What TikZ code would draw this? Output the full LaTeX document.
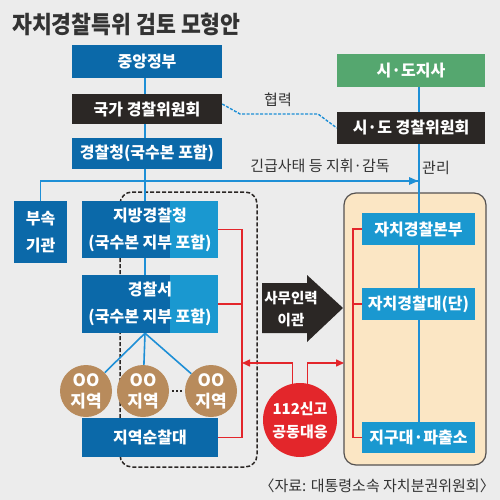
\documentclass[tikz,border=0pt]{standalone}
\usepackage{fontspec}
\setmainfont{Noto Sans CJK KR}
\newfontfamily\titlefont{Noto Sans CJK KR}[FakeStretch=0.9]
\usetikzlibrary{arrows.meta}
\pgfdeclarelayer{bg}
\pgfsetlayers{bg,main}
\definecolor{bgc}{HTML}{ECECEC}
\definecolor{dblue}{HTML}{0B69A9}
\definecolor{lblue}{HTML}{1A98D0}
\definecolor{darkc}{HTML}{2B2725}
\definecolor{grn}{HTML}{55A76F}
\definecolor{redc}{HTML}{E3262B}
\definecolor{brownc}{HTML}{B88B5C}
\definecolor{beige}{HTML}{FBE6C4}
\definecolor{lineblue}{HTML}{1E8FD6}
\definecolor{txt}{HTML}{333333}
\tikzset{
  box/.style={inner sep=0pt, text=white, align=center, font=\fontsize{16}{27}\selectfont\bfseries},
  twotone/.style={box, fill=dblue, path picture={\fill[lblue] ([xshift=88pt]path picture bounding box.south west) rectangle (path picture bounding box.north east);}},
  area/.style={circle, inner sep=0pt, minimum size=52pt, fill=brownc, text=white, align=center, font=\fontsize{17}{21}\selectfont\bfseries},
  blueline/.style={draw=lineblue, line width=1.6pt},
  redline/.style={draw=redc, line width=1.5pt},
  bluedash/.style={draw=lineblue, line width=1.4pt, dash pattern=on 3pt off 1.5pt},
  blackdash/.style={draw=darkc, line width=1.5pt, dash pattern=on 4pt off 2pt},
  label/.style={inner sep=0pt, text=txt, font=\fontsize{15}{17}\selectfont},
}
\begin{document}
\begin{tikzpicture}[x=1pt,y=-1pt]
\begin{pgfonlayer}{bg}
\fill[bgc] (0,0) rectangle (500,500);
\draw[darkc!80, line width=1.2pt, fill=beige, rounded corners=12pt] (344,193) rectangle (486,465);
\draw[blackdash, rounded corners=12pt] (120,192) rectangle (257,467);
\end{pgfonlayer}
\useasboundingbox (0,0) rectangle (500,500);
% title
\node[anchor=west, inner sep=0pt, text=txt, font=\titlefont\fontsize{24}{26}\selectfont\bfseries] (title) at (12,24) {자치경찰특위 검토 모형안};
% spine coordinates
\coordinate (sp) at (145,0);
\coordinate (rs) at (419,0);
\coordinate (rv) at (242,0);
\coordinate (iv) at (353,0);
% left column
\node[box, fill=dblue, minimum width=150pt, minimum height=33pt] (cg) at (147,61.5) {중앙정부};
\node[box, fill=darkc, minimum width=150pt, minimum height=30pt] (nc) at (147,109) {국가 경찰위원회};
\node[box, fill=dblue, minimum width=150pt, minimum height=31pt] (npa) at (147,153.5) {경찰청(국수본 포함)};
\node[box, fill=dblue, minimum width=53pt, minimum height=62pt] (aux) at (40.5,232) {부속\\기관};
\node[twotone, minimum width=136pt, minimum height=57pt] (rpa) at (150,229.5) {지방경찰청\\(국수본 지부 포함)};
\node[twotone, minimum width=136pt, minimum height=58pt] (ps) at (150,304) {경찰서\\(국수본 지부 포함)};
\node[area] (c1) at (86,391) {OO\\지역};
\node[area] (c2) at (143,391) {OO\\지역};
\node[area] (c3) at (211,391) {OO\\지역};
\node[box, fill=dblue, minimum width=136pt, minimum height=39pt] (pat) at (150,437.5) {지역순찰대};
% right column
\node[box, fill=grn, minimum width=148pt, minimum height=33pt] (gov) at (411,70.5) {시·도지사};
\node[box, fill=darkc, minimum width=148pt, minimum height=32pt] (lc) at (411,128) {시·도 경찰위원회};
\node[box, fill=lblue, minimum width=113pt, minimum height=32pt] (hq) at (418.5,229) {자치경찰본부};
\node[box, fill=lblue, minimum width=113pt, minimum height=32pt] (unit) at (418.5,304) {자치경찰대(단)};
\node[box, fill=lblue, minimum width=113pt, minimum height=31pt] (sub) at (418.5,437.5) {지구대·파출소};
% middle
\node[circle, fill=redc, minimum size=74pt, inner sep=0pt, text=white, align=center, font=\fontsize{15}{23}\selectfont\bfseries] (c112) at (300,420) {112신고\\공동대응};
\fill[darkc] (262,283) -- (307,283) -- (307,275) -- (343,308) -- (307,342) -- (307,333) -- (262,333) -- cycle;
\node[inner sep=0pt, text=white, align=center, font=\fontsize{14.5}{22}\selectfont\bfseries] (move) at (291,309) {사무인력\\이관};
% labels
\node[label] (coop) at (278,100) {협력};
\node[label] (cmd) at (320,166) {긴급사태 등 지휘·감독};
\node[label] (mng) at (436,168) {관리};
\node[label, anchor=east] (src) at (495,486) {〈자료: 대통령소속 자치분권위원회〉};
\coordinate (turn) at (40.5,181);
\coordinate (tip) at (418,181);
\coordinate (lt) at (242,363);
\coordinate (rt) at (344,363);
\begin{pgfonlayer}{bg}
\draw[blueline] (cg.south -| sp) -- (nc.north -| sp);
\draw[blueline] (nc.south -| sp) -- (npa.north -| sp);
\draw[blueline] (npa.south -| sp) -- (rpa.north -| sp);
\draw[blueline] (rpa.south -| sp) -- (ps.north -| sp);
\draw[blueline] (ps.south -| sp) -- (c1);
\draw[blueline] (ps.south -| sp) -- (c2);
\draw[blueline] (ps.south -| sp) -- (c3);
\draw[blueline] (aux.north) -- (turn) -- (tip);
\draw[blueline] (gov.south -| rs) -- (lc.north -| rs);
\draw[blueline] (lc.south -| rs) -- (sub.north -| rs);
\draw[redline] (rpa.east) -- (rpa.east -| rv) -- (pat.east -| rv) -- (pat.east);
\draw[redline] (ps.east) -- (ps.east -| rv);
\draw[redline] (hq.west) -- (hq.west -| iv) -- (sub.west -| iv) -- (sub.west);
\draw[redline] (unit.west) -- (unit.west -| iv);
\end{pgfonlayer}
\fill[lineblue] (tip) -- ++(-9,-4) -- ++(0,8) -- cycle;
\draw[bluedash] ([yshift=5pt]nc.east) -- (240,114) -- (318,114) -- (lc.west);
\draw[darkc, line width=2pt, dash pattern=on 2pt off 2pt, shorten <=3pt, shorten >=3pt] (c2) -- (c3);
\draw[redline, -{Triangle[length=8pt,width=7pt]}] (c112.102) |- (lt);
\draw[redline, -{Triangle[length=8pt,width=7pt]}] (c112.78) |- (rt);
\end{tikzpicture}
\end{document}
